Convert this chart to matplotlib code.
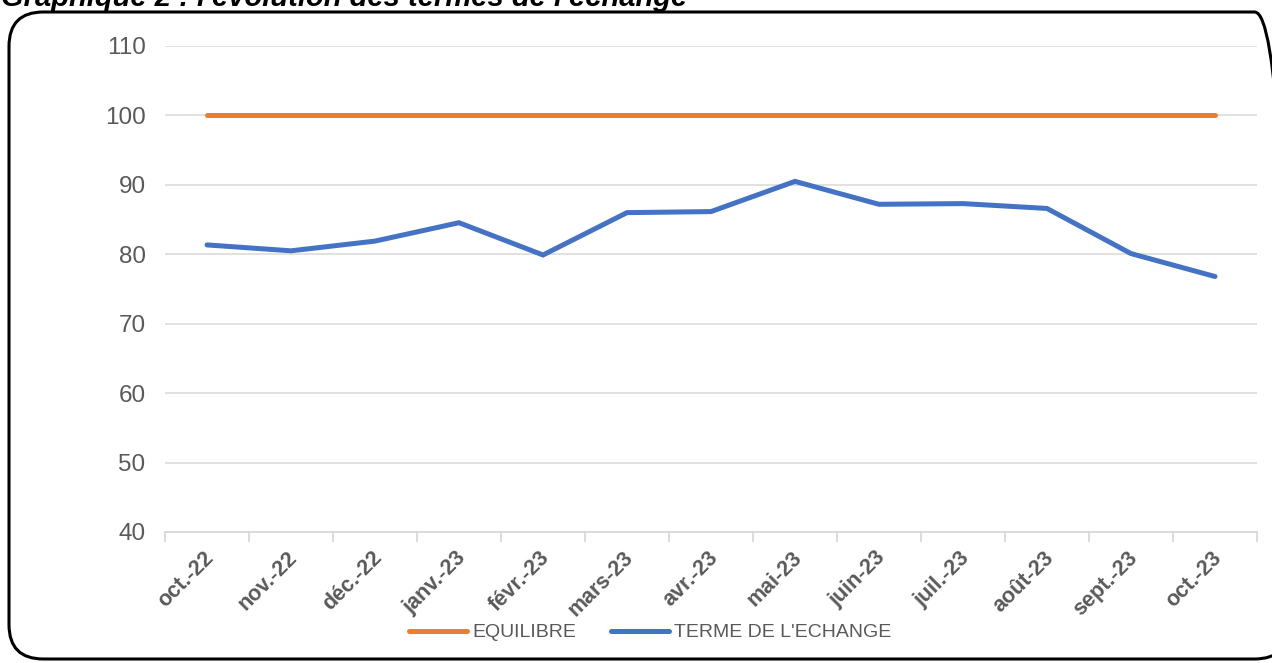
import matplotlib.pyplot as plt
from matplotlib.patches import FancyBboxPatch
from matplotlib.transforms import ScaledTranslation

months = ['oct.-22', 'nov.-22', 'déc.-22', 'janv.-23', 'févr.-23', 'mars-23', 'avr.-23',
          'mai-23', 'juin-23', 'juil.-23', 'août-23', 'sept.-23', 'oct.-23']
equilibre = [100] * 13
terme_echange = [81.35, 80.5, 81.9, 84.55, 79.9, 86.0, 86.15, 90.5, 87.2, 87.3, 86.6, 80.1, 76.8]

grey = '#595959'
plt.rcParams['font.family'] = ['Liberation Sans', 'DejaVu Sans']

fig = plt.figure(figsize=(12.72, 6.63), dpi=100)
ax = fig.add_axes([165 / 1272, 131 / 663, 1092 / 1272, 486 / 663])

x = list(range(len(months)))
ax.plot(x, equilibre, color='#ED7D31', lw=3.6, solid_capstyle='round', label='EQUILIBRE')
ax.plot(x, terme_echange, color='#4472C4', lw=3.6, solid_capstyle='round',
        solid_joinstyle='miter', label="TERME DE L'ECHANGE")

ax.set_xlim(-0.5, len(months) - 0.5)
ax.set_ylim(40, 110)
ax.set_yticks(range(40, 111, 10))
ax.grid(axis='y', color='#D9D9D9', lw=1.1)
ax.set_axisbelow(True)
for s in ['top', 'right', 'left']:
    ax.spines[s].set_visible(False)
ax.spines['bottom'].set_color('#D9D9D9')
ax.spines['bottom'].set_linewidth(1.3)

ax.tick_params(axis='y', length=0, pad=14, labelsize=17.5, labelcolor=grey)
ax.set_xticks(x)
ax.set_xticklabels(months, rotation=45, ha='right', va='top', rotation_mode='anchor',
                   fontsize=15.5, fontweight='bold', color=grey)
ax.tick_params(axis='x', length=0, pad=11)
ax.set_xticks([i - 0.5 for i in range(len(months) + 1)], minor=True)
ax.tick_params(axis='x', which='minor', length=7, color='#D9D9D9', width=1.3)
shift = ScaledTranslation(-4 / 100, 0, fig.dpi_scale_trans)
for lbl in ax.get_xticklabels():
    lbl.set_transform(lbl.get_transform() + shift)

leg = fig.legend(loc='center', bbox_to_anchor=(0.511, 0.046), ncol=2, frameon=False,
                 fontsize=14, handlelength=3.0, columnspacing=1.8, handletextpad=0.25)
for t in leg.get_texts():
    t.set_color(grey)

border = FancyBboxPatch((9 / 1272, 4 / 663), 1280 / 1272, 647 / 663, transform=fig.transFigure,
                        boxstyle='round,pad=0,rounding_size=0.027', mutation_aspect=1272 / 663,
                        fill=False, ec='black', lw=2.2, clip_on=False)
fig.patches.append(border)

fig.text(0.001, 1 - 6 / 663, "Graphique 2 : l'évolution des termes de l'échange",
         fontsize=21, fontweight='bold', fontstyle='italic', va='baseline', ha='left')

fig.savefig('out.png', dpi=100)
